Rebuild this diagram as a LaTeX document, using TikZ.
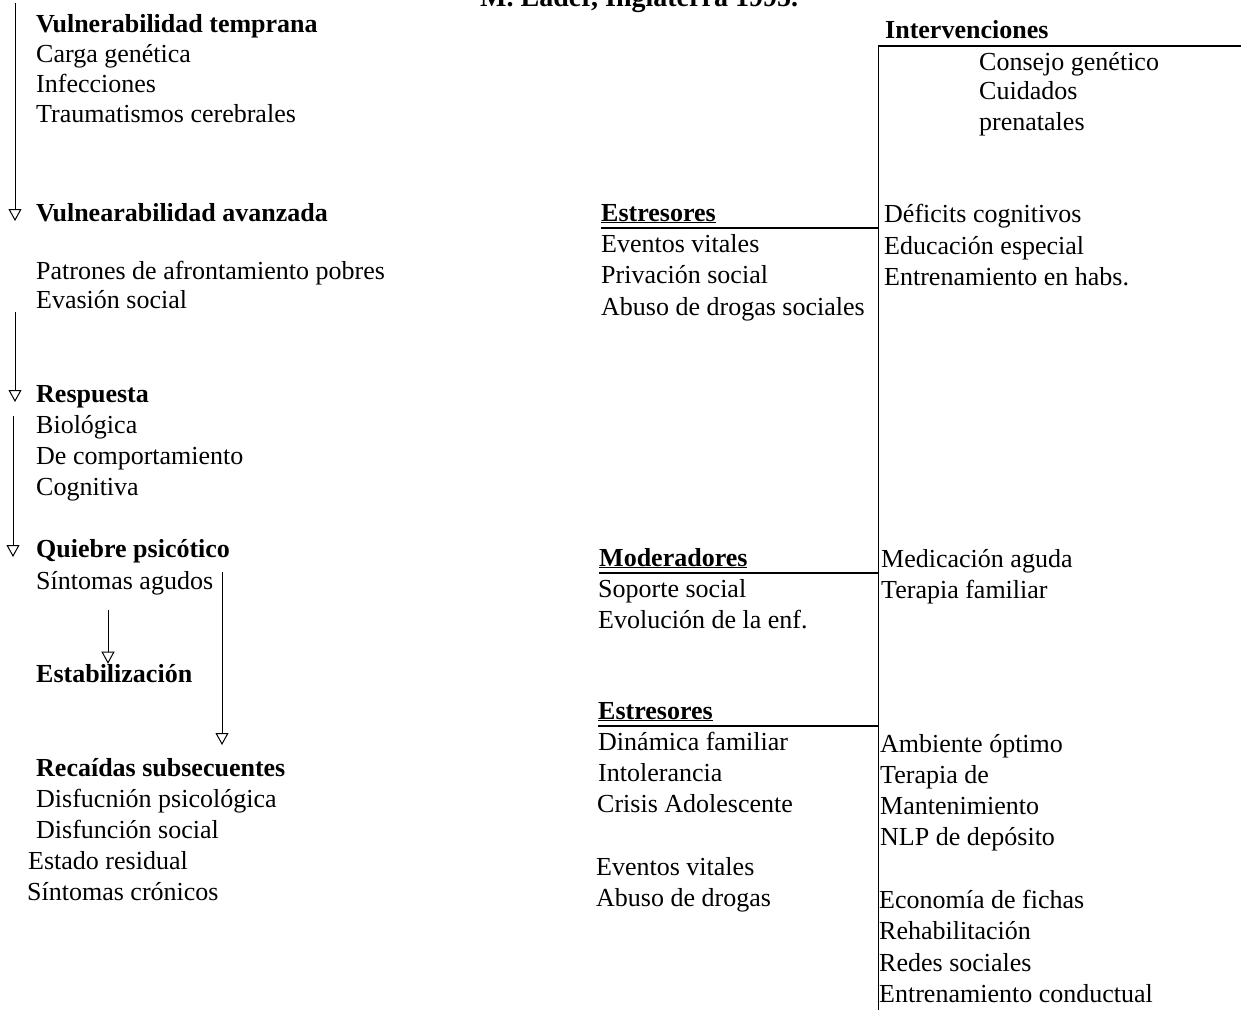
\documentclass[tikz,border=0pt]{standalone}
\usepackage{fontspec}
\setmainfont{Liberation Serif}
\usetikzlibrary{arrows.meta, positioning}

\tikzset{
  txt/.style={anchor=base west, inner sep=0pt, font=\fontsize{26}{31}\selectfont},
  hd/.style={txt, font=\fontsize{26}{31}\selectfont\bfseries},
  hdline/.style={hd, inner ysep=5pt},
  flow/.style={line width=1pt, -{Triangle[open, length=12pt, width=13pt]}},
  spine/.style={line width=1.6pt},
  link/.style={line width=2pt},
}

\begin{document}
\begin{tikzpicture}[x=1pt, y=-1pt]
\useasboundingbox (0,0) rectangle (1241,1009);
\clip (0,0) rectangle (1241,1009);

\path (480,6) node[hd, font=\fontsize{28}{34}\selectfont\bfseries] (title) {M. Lader, Inglaterra 1995.};

% left column
\path (36,32) node[hd] (vuln-temp) {Vulnerabilidad temprana};
\path (36,62) node[txt] (carga) {Carga genética};
\path (36,92) node[txt] (infec) {Infecciones};
\path (36,122) node[txt] (trauma) {Traumatismos cerebrales};

\path (36,221) node[hd] (vuln-av) {Vulnearabilidad avanzada};
\path (36,279) node[txt] (patrones) {Patrones de afrontamiento pobres};
\path (36,308) node[txt] (evasion) {Evasión social};

\path (36,402) node[hd] (resp) {Respuesta};
\path (36,433) node[txt] (biol) {Biológica};
\path (36,464) node[txt] (comport) {De comportamiento};
\path (36,495) node[txt] (cogn) {Cognitiva};

\path (36,557) node[hd] (quiebre) {Quiebre psicótico};
\path (36,589) node[txt] (agudos) {Síntomas agudos};

\path (36,682) node[hd] (estab) {Estabilización};

\path (36,776) node[hd] (recaidas) {Recaídas subsecuentes};
\path (36,807) node[txt] (dis-psic) {Disfucnión psicológica};
\path (36,838) node[txt] (dis-soc) {Disfunción social};
\path (28,869) node[txt] (residual) {Estado residual};
\path (27,900) node[txt] (cronicos) {Síntomas crónicos};

% arrows down the left side
\coordinate (a1) at (15,3);
\coordinate (a2) at (15,312);
\coordinate (a3) at (13,416);
\coordinate (a4) at (108,610);
\coordinate (a5) at (222,572);
\coordinate (a5-tip) at (222,745);
\draw[flow] (a1) -- (a1 |- vuln-av.base);
\draw[flow] (a2) -- (a2 |- resp.base);
\draw[flow] (a3) -- (a3 |- quiebre.base);
\draw[flow] (a4) -- (a4 |- estab.north);
\draw[flow] (a5) -- (a5-tip);

% middle column
\path (601,221) node[hdline] (estres-a) {\underline{Estresores}};
\path (601,252) node[txt] (eventos-a) {Eventos vitales};
\path (601,283) node[txt] (privacion) {Privación social};
\path (601,315) node[txt] (abuso-a) {Abuso de drogas sociales};

\path (599,566) node[hdline] (moder) {\underline{Moderadores}};
\path (598,597) node[txt] (soporte) {Soporte social};
\path (598,628) node[txt] (evol) {Evolución de la enf.};

\path (598,719) node[hdline] (estres-b) {\underline{Estresores}};
\path (598,750) node[txt] (dinamica) {Dinámica familiar};
\path (598,781) node[txt] (intoler) {Intolerancia};
\path (597,812) node[txt] (crisis) {Crisis Adolescente};
\path (596,875) node[txt] (eventos-b) {Eventos vitales};
\path (596,906) node[txt] (abuso-b) {Abuso de drogas};

% interventions
\path (885,38) node[hd] (interv) {Intervenciones};
\path (979,70) node[txt] (consejo) {Consejo genético};
\path (979,99) node[txt] (cuidados) {Cuidados};
\path (979,130) node[txt] (prenat) {prenatales};

\path (884,222) node[txt] (deficits) {Déficits cognitivos};
\path (884,254) node[txt] (educ) {Educación especial};
\path (884,285) node[txt] (habs) {Entrenamiento en habs.};

\path (881,567) node[txt] (medic) {Medicación aguda};
\path (881,598) node[txt] (ter-fam) {Terapia familiar};

\path (880,752) node[txt] (ambiente) {Ambiente óptimo};
\path (880,783) node[txt] (ter-de) {Terapia de};
\path (880,814) node[txt] (manten) {Mantenimiento};
\path (880,845) node[txt] (nlp) {NLP de depósito};
\path (879,908) node[txt] (fichas) {Economía de fichas};
\path (879,939) node[txt] (rehab) {Rehabilitación};
\path (879,971) node[txt] (redes) {Redes sociales};
\path (879,1002) node[txt] (conduct) {Entrenamiento conductual};

% spine and links
\coordinate (sp-top) at (878.5,46);
\coordinate (sp-bot) at (878.5,1012);
\coordinate (sp-right) at (1245,46);
\draw[spine] (sp-bot) -- (sp-top) -- (sp-right);

\draw[link] (estres-a.south west) -- (estres-a.south west -| sp-top);
\draw[link] (moder.south west) -- (moder.south west -| sp-top);
\draw[link] (estres-b.south west) -- (estres-b.south west -| sp-top);
\end{tikzpicture}
\end{document}
